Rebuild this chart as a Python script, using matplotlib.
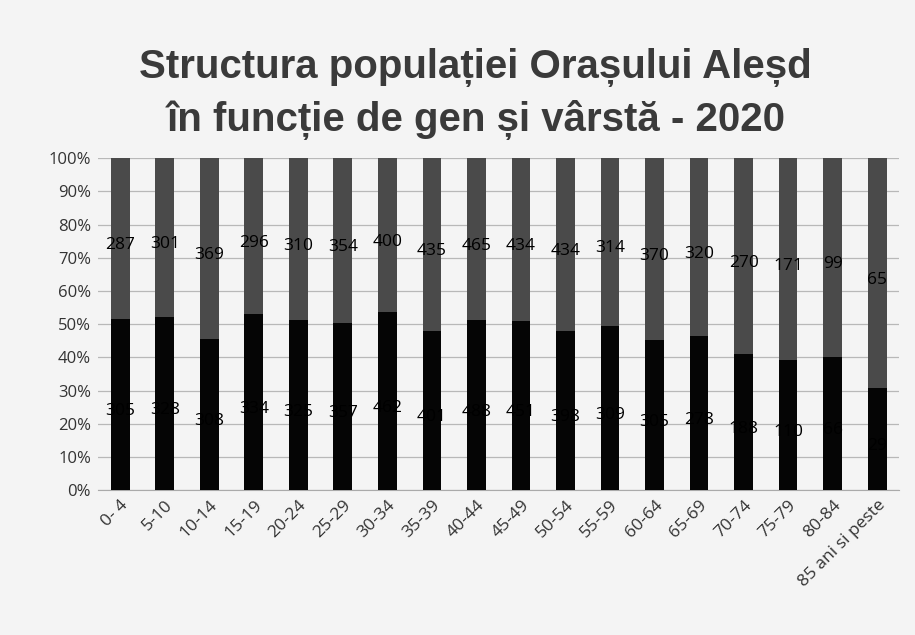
import matplotlib.pyplot as plt
import numpy as np

plt.rcParams['font.family'] = ['Open Sans', 'DejaVu Sans']

age_groups = ['0- 4', '5-10', '10-14', '15-19', '20-24', '25-29', '30-34', '35-39',
              '40-44', '45-49', '50-54', '55-59', '60-64', '65-69', '70-74', '75-79',
              '80-84', '85 ani si peste']
bottom_vals = [305, 328, 308, 334, 325, 357, 462, 401, 488, 451, 398, 309, 305, 278,
               188, 110, 66, 29]
top_vals = [287, 301, 369, 296, 310, 354, 400, 435, 465, 434, 434, 314, 370, 320,
            270, 171, 99, 65]

bottom = np.array(bottom_vals, dtype=float)
top = np.array(top_vals, dtype=float)
total = bottom + top
b_pct = bottom / total * 100
t_pct = top / total * 100

fig = plt.figure(figsize=(9.15, 6.35), dpi=100)
fig.patch.set_facecolor('#f4f4f4')
ax = fig.add_axes([0.107, 0.228, 0.876, 0.523])
ax.set_facecolor('#f4f4f4')

x = np.arange(len(age_groups))
w = 0.42
ax.bar(x, b_pct, width=w, color='#050505', zorder=3)
ax.bar(x, t_pct, width=w, bottom=b_pct, color='#4a4a4a', zorder=3)

for i in range(len(x)):
    ax.text(x[i], b_pct[i] / 2 - 2, str(bottom_vals[i]), ha='center', va='center',
            fontsize=12.5, color='black', zorder=4)
    ax.text(x[i], b_pct[i] + t_pct[i] / 2 - 2, str(top_vals[i]), ha='center', va='center',
            fontsize=12.5, color='black', zorder=4)

ax.set_xlim(-0.5, len(x) - 0.5)
ax.set_ylim(0, 100)
ax.set_yticks(np.arange(0, 101, 10))
ax.set_yticklabels([f'{v}%' for v in range(0, 101, 10)], fontsize=12, color='#333333')
ax.set_xticks(x)
ax.set_xticklabels(age_groups, rotation=45, ha='right', rotation_mode='anchor',
                   fontsize=12.5, color='#333333')
ax.tick_params(axis='both', length=0, pad=5)
ax.grid(axis='y', color='#b8b8b8', linewidth=0.9, zorder=0)
for s in ['top', 'right', 'left']:
    ax.spines[s].set_visible(False)
ax.spines['bottom'].set_color('#aaaaaa')

title_font = ['Liberation Sans', 'DejaVu Sans']
fig.text(0.52, 0.893, 'Structura populației Orașului Aleșd', ha='center', va='center',
         fontsize=29, fontweight='bold', color='#3a3a3a', family=title_font)
fig.text(0.52, 0.811, 'în funcție de gen și vârstă - 2020', ha='center', va='center',
         fontsize=29, fontweight='bold', color='#3a3a3a', family=title_font)

fig.savefig('out.png', dpi=100, facecolor=fig.get_facecolor())
